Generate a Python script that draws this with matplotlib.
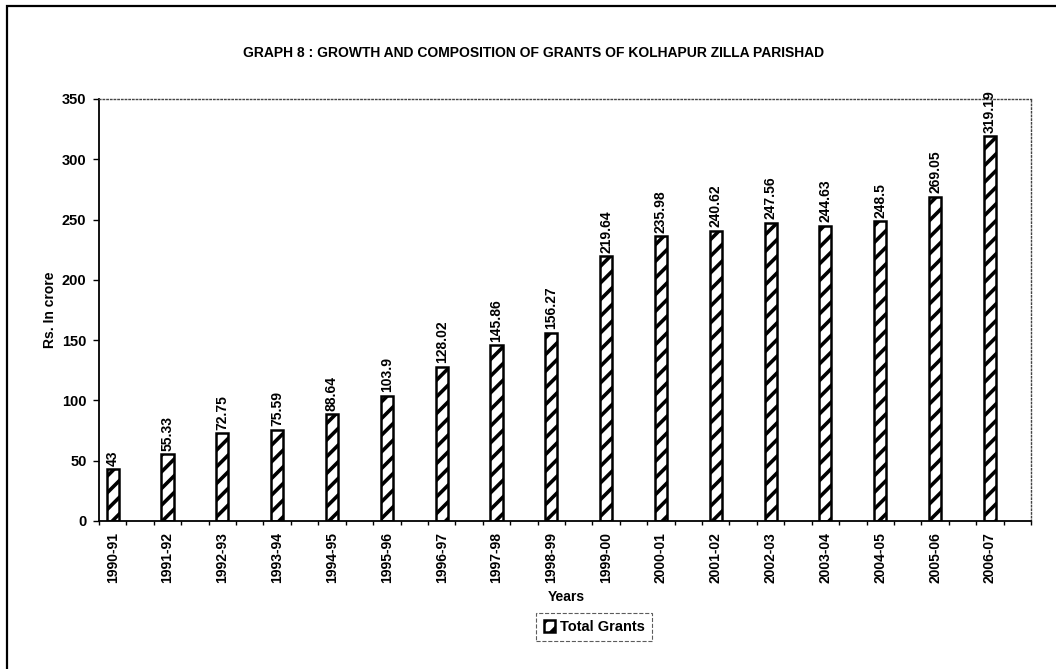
import matplotlib
matplotlib.use("Agg")
from matplotlib import pyplot as plt
from matplotlib.patches import Rectangle
import numpy as np

years = ['1990-91', '1991-92', '1992-93', '1993-94', '1994-95', '1995-96',
         '1996-97', '1997-98', '1998-99', '1999-00', '2000-01', '2001-02',
         '2002-03', '2003-04', '2004-05', '2005-06', '2006-07']
total_grants = [43, 55.33, 72.75, 75.59, 88.64, 103.9, 128.02, 145.86, 156.27,
                219.64, 235.98, 240.62, 247.56, 244.63, 248.5, 269.05, 319.19]
value_labels = ['43', '55.33', '72.75', '75.59', '88.64', '103.9', '128.02',
                '145.86', '156.27', '219.64', '235.98', '240.62', '247.56',
                '244.63', '248.5', '269.05', '319.19']
y_ticks = [0, 50, 100, 150, 200, 250, 300, 350]

plt.rcParams['font.family'] = ['Liberation Sans', 'DejaVu Sans']
plt.rcParams['font.weight'] = 'bold'
plt.rcParams['hatch.linewidth'] = 2.6

fig = plt.figure(figsize=(10.56, 6.69), dpi=100)
fig.patch.set_facecolor('white')

# outer chart border (only left/top visible in the scan)
fig.patches.append(Rectangle((7 / 1056, -0.1), 1.2, 1 - 6 / 669 + 0.1,
                             transform=fig.transFigure, fill=False,
                             edgecolor='black', linewidth=1.6))

ax = fig.add_axes([99 / 1056, 1 - 521 / 669, 932 / 1056, 422 / 669])

x = np.arange(len(years))
pos = x - 0.25
bars = ax.bar(pos, total_grants, width=0.22, color='white', edgecolor='black',
              linewidth=1.8, hatch='//', label='Total Grants', zorder=2)

for p, v, lab in zip(pos, total_grants, value_labels):
    ax.text(p, v + 3, lab, rotation=90, ha='center', va='bottom',
            fontsize=10, fontweight='bold')

ax.set_xlim(-0.5, len(years) - 0.5)
ax.set_ylim(0, 350)
ax.set_yticks(y_ticks)
ax.set_yticklabels([str(t) for t in y_ticks], fontsize=10.5, fontweight='bold')

ax.set_xticks(pos)
ax.set_xticklabels(years, rotation=90, fontsize=10, fontweight='bold')
ax.tick_params(axis='x', length=0, pad=8)
ax.set_xticks(np.arange(-0.5, len(years), 0.5), minor=True)
ax.tick_params(axis='x', which='minor', length=3, direction='out', width=1)
ax.tick_params(axis='y', length=4, direction='out', width=1, pad=5)

for side in ['left', 'bottom']:
    ax.spines[side].set_linewidth(1.3)
for side in ['top', 'right']:
    ax.spines[side].set_linestyle(':')
    ax.spines[side].set_linewidth(1.0)
    ax.spines[side].set_color('#444444')

fig.text(50 / 1056, 1 - 310 / 669, 'Rs. In crore', rotation=90, ha='center',
         va='center', fontsize=10, fontweight='bold')
fig.text(566 / 1056, 1 - 597 / 669, 'Years', ha='center', va='center',
         fontsize=10, fontweight='bold')
fig.text(534 / 1056, 1 - 53 / 669,
         'GRAPH 8 : GROWTH AND COMPOSITION OF GRANTS OF KOLHAPUR ZILLA PARISHAD',
         ha='center', va='center', fontsize=10, fontweight='bold')

leg = fig.legend(handles=[bars], labels=['Total Grants'], loc='center',
                 bbox_to_anchor=(594 / 1056, 1 - 627 / 669), fontsize=10.5,
                 frameon=True, fancybox=False, handlelength=0.8,
                 handleheight=0.8, handletextpad=0.3, borderpad=0.5,
                 borderaxespad=0)
leg.get_frame().set_edgecolor('#333333')
leg.get_frame().set_linestyle('--')
leg.get_frame().set_linewidth(0.8)
for t in leg.get_texts():
    t.set_fontweight('bold')

fig.savefig('out.png', dpi=100)
